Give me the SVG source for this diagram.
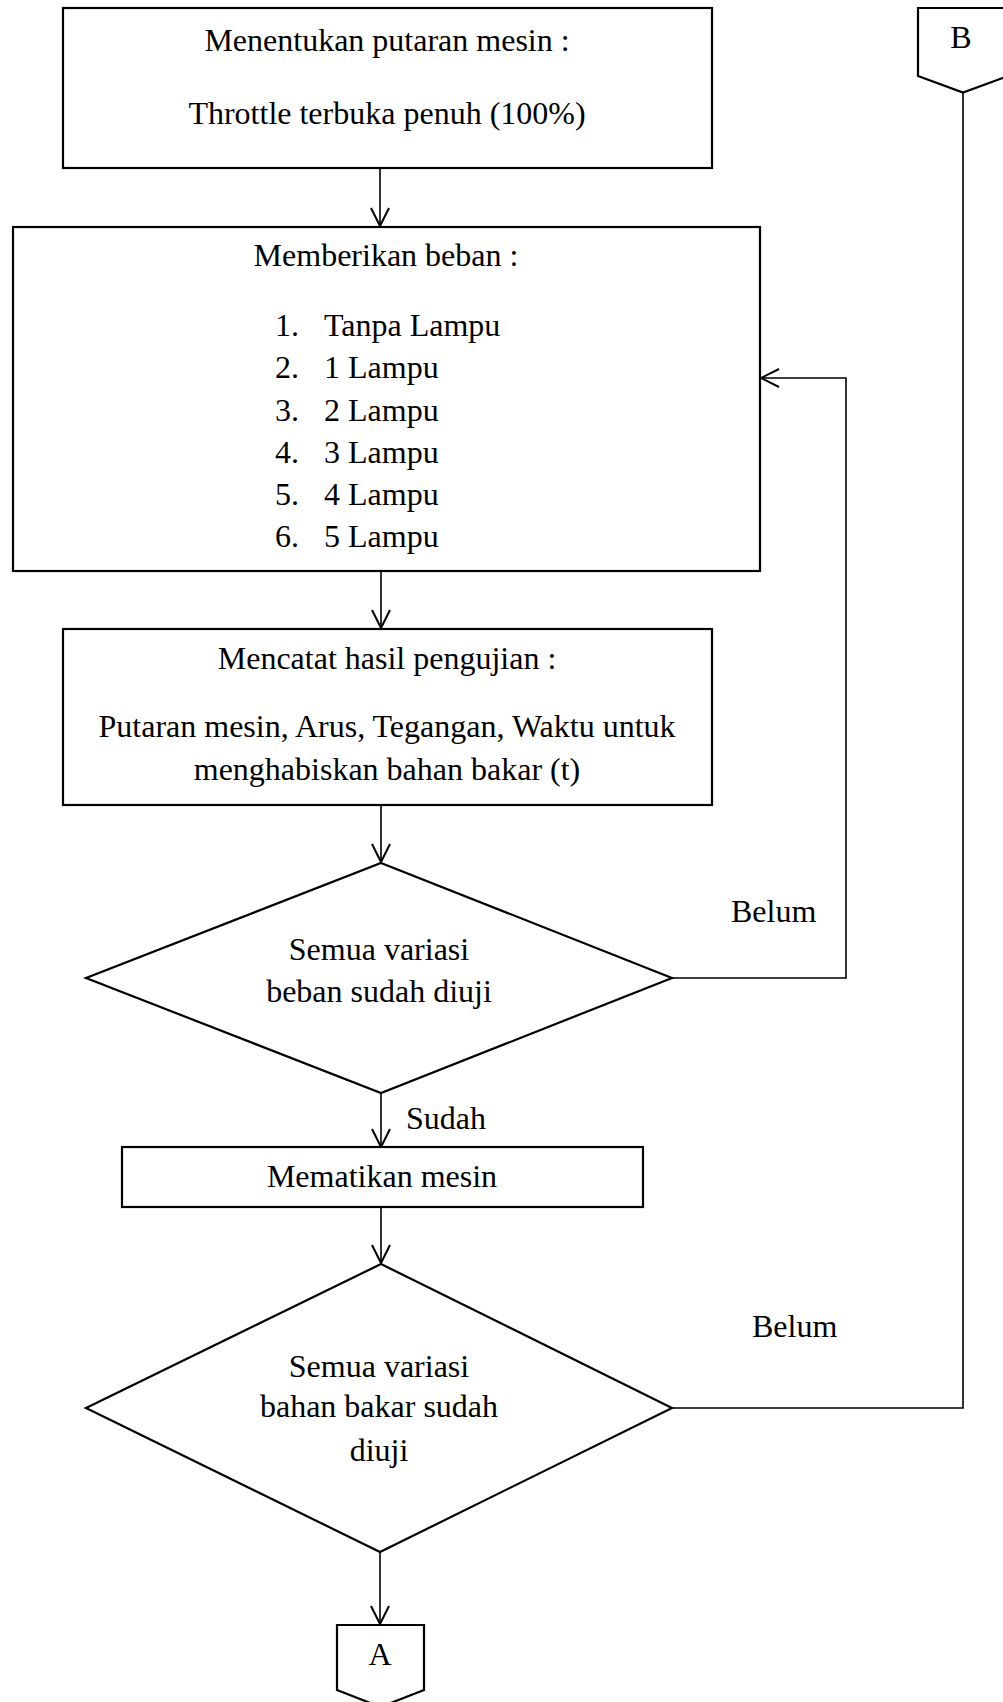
<svg xmlns="http://www.w3.org/2000/svg" width="1003" height="1702" viewBox="0 0 1003 1702">
<defs>
<style>
.shape{fill:#fff;stroke:#000;stroke-width:2.2}
.conn{fill:none;stroke:#000;stroke-width:1.6}
text{font-family:"Liberation Serif","Times New Roman",serif;font-size:32px;fill:#000}
.c{text-anchor:middle}
</style>
<marker id="arr" markerUnits="userSpaceOnUse" markerWidth="24" markerHeight="24" refX="19" refY="10" orient="auto">
<path d="M1,1 L19,10 L1,19" fill="none" stroke="#000" stroke-width="2"/>
</marker>
</defs>
<rect width="1003" height="1702" fill="#fff"/>

<g id="connectors">
<line class="conn" x1="380" y1="168" x2="380" y2="226" marker-end="url(#arr)"/>
<line class="conn" x1="381" y1="571" x2="381" y2="628" marker-end="url(#arr)"/>
<line class="conn" x1="381" y1="805" x2="381" y2="862" marker-end="url(#arr)"/>
<polyline class="conn" points="672,978 846,978 846,378 761,378" marker-end="url(#arr)"/>
<line class="conn" x1="381" y1="1093" x2="381" y2="1147" marker-end="url(#arr)"/>
<line class="conn" x1="381" y1="1207" x2="381" y2="1263" marker-end="url(#arr)"/>
<polyline class="conn" points="672,1408 963,1408 963,92"/>
<line class="conn" x1="380" y1="1552" x2="380" y2="1624" marker-end="url(#arr)"/>
</g>

<g id="connector-B">
<polygon class="shape" points="918,8 1008,8 1008,76 963,92.5 918,76"/>
<text class="c" x="961" y="48">B</text>
</g>

<g id="n1">
<rect class="shape" x="63" y="8" width="649" height="160"/>
<text class="c" x="387" y="51">Menentukan putaran mesin :</text>
<text class="c" x="387" y="124">Throttle terbuka penuh (100%)</text>
</g>

<g id="n2">
<rect class="shape" x="13" y="227" width="747" height="344"/>
<text class="c" x="386" y="266">Memberikan beban :</text>
<text x="275" y="336">1.</text><text x="324" y="336">Tanpa Lampu</text>
<text x="275" y="378">2.</text><text x="324" y="378">1 Lampu</text>
<text x="275" y="420.5">3.</text><text x="324" y="420.5">2 Lampu</text>
<text x="275" y="462.5">4.</text><text x="324" y="462.5">3 Lampu</text>
<text x="275" y="505">5.</text><text x="324" y="505">4 Lampu</text>
<text x="275" y="547">6.</text><text x="324" y="547">5 Lampu</text>
</g>

<g id="n3">
<rect class="shape" x="63" y="629" width="649" height="176"/>
<text class="c" x="387" y="669">Mencatat hasil pengujian :</text>
<text class="c" x="387" y="737">Putaran mesin, Arus, Tegangan, Waktu untuk</text>
<text class="c" x="387" y="780">menghabiskan bahan bakar (t)</text>
</g>

<g id="d1">
<polygon class="shape" points="381,863 672,978 381,1093 86,978"/>
<text class="c" x="379" y="960">Semua variasi</text>
<text class="c" x="379" y="1002">beban sudah diuji</text>
</g>
<text id="lbl-belum1" x="731" y="922">Belum</text>
<text id="lbl-sudah" x="406" y="1129">Sudah</text>

<g id="n4">
<rect class="shape" x="122" y="1147" width="521" height="60"/>
<text class="c" x="382" y="1187">Mematikan mesin</text>
</g>

<g id="d2">
<polygon class="shape" points="381,1264 672,1408 380,1552 86,1408"/>
<text class="c" x="379" y="1377">Semua variasi</text>
<text class="c" x="379" y="1417">bahan bakar sudah</text>
<text class="c" x="379" y="1461">diuji</text>
</g>
<text id="lbl-belum2" x="752" y="1337">Belum</text>

<g id="connector-A">
<polygon class="shape" points="337,1625 424,1625 424,1690 380.5,1707 337,1690"/>
<text class="c" x="380" y="1665">A</text>
</g>
</svg>
